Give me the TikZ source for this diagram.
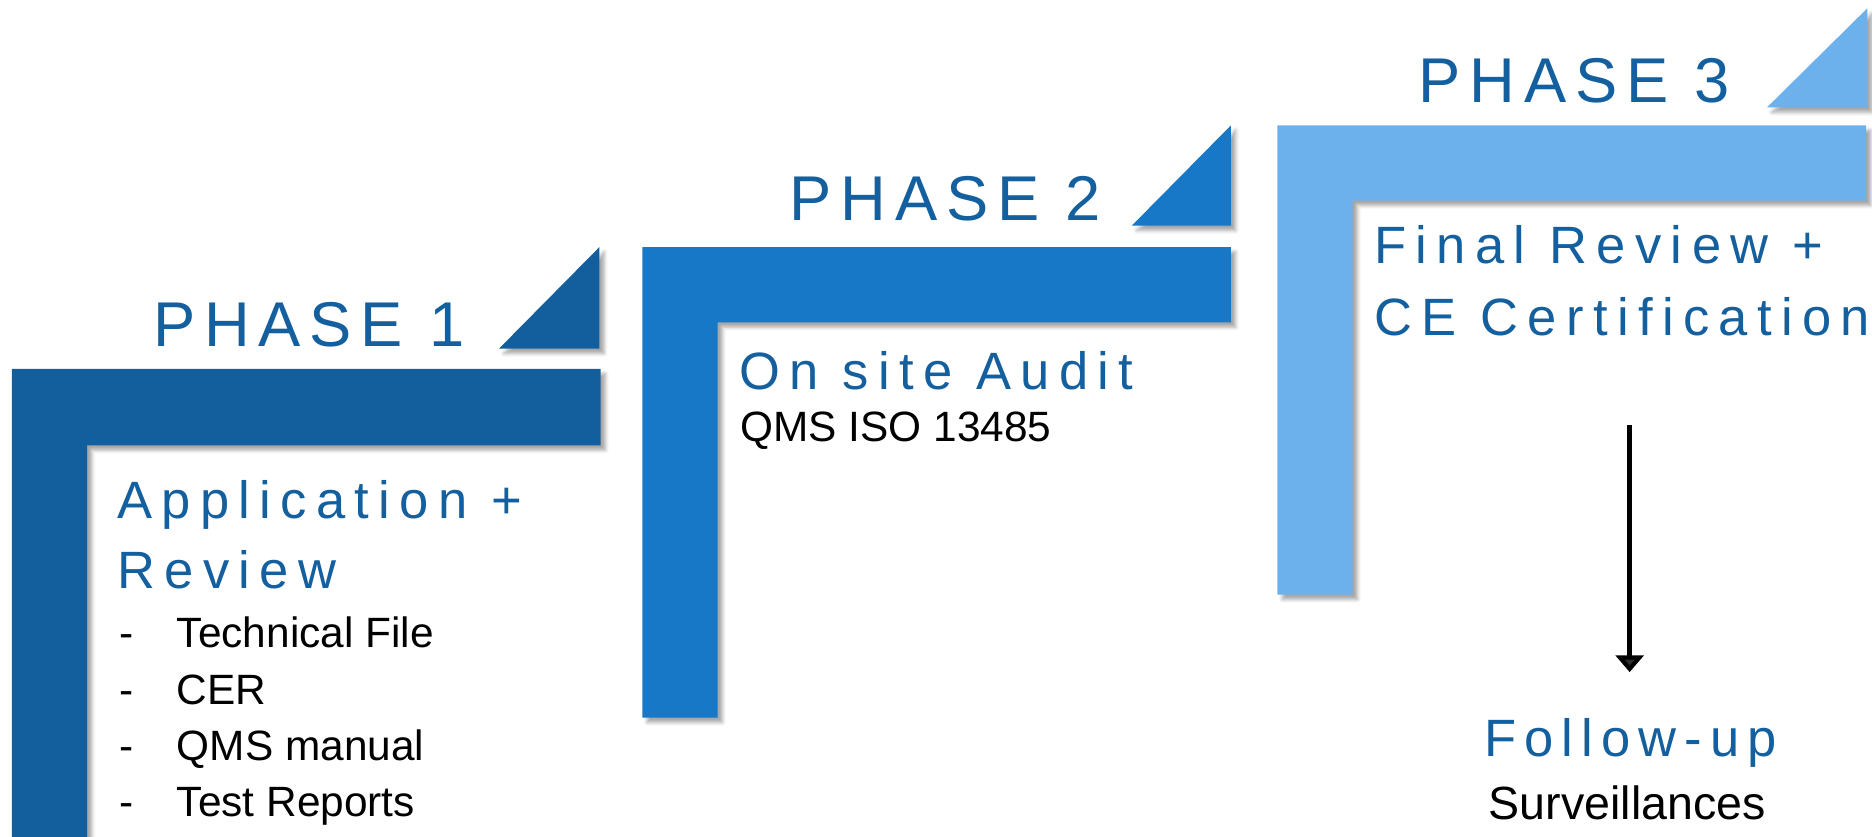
\documentclass[tikz,border=0pt]{standalone}
\usepackage{fontspec}
\setmainfont{Liberation Sans}
\newfontfamily\titlefont[LetterSpace=14]{Liberation Sans}
\newfontfamily\subfont[LetterSpace=17.8]{Liberation Sans}
\newfontfamily\fufont[LetterSpace=15.5]{Liberation Sans}
\usetikzlibrary{shadows.blur,arrows.meta}
\definecolor{pone}{HTML}{135F9E}
\definecolor{ptwo}{HTML}{1878C8}
\definecolor{pthree}{HTML}{6DB1EC}
\definecolor{tblue}{HTML}{14609F}
\tikzset{
  shd/.style={blur shadow={shadow xshift=4pt,shadow yshift=-4pt,shadow blur radius=3pt,shadow opacity=35}},
  ttl/.style={anchor=base west,inner sep=0pt,text=tblue,font=\titlefont\fontsize{53}{60}\selectfont},
  sub/.style={anchor=base west,inner sep=0pt,text=tblue,font=\subfont\fontsize{44}{50}\selectfont},
  blk/.style={anchor=base west,inner sep=0pt,text=black,font=\fontsize{35.5}{40}\selectfont},
  arr/.style={line width=3.8pt,-{Triangle[width=23pt,length=14pt]}}
}
\begin{document}
\begin{tikzpicture}[x=1pt,y=-1pt]
\useasboundingbox (0,0) rectangle (1568,701);
% Phase 1
\fill[pone,shd] (10,309) -- (503,309) -- (503,373) -- (73,373) -- (73,720) -- (10,720) -- cycle;
\fill[pone,shd] (418,292) -- (502,207) -- (502,292) -- cycle;
% Phase 2
\fill[ptwo,shd] (538,207) -- (1031,207) -- (1031,270) -- (601,270) -- (601,601) -- (538,601) -- cycle;
\fill[ptwo,shd] (948,189) -- (1031,105) -- (1031,189) -- cycle;
% Phase 3
\fill[pthree,shd] (1070,105) -- (1563,105) -- (1563,168) -- (1133,168) -- (1133,498) -- (1070,498) -- cycle;
\fill[pthree,shd] (1480,90) -- (1564,7) -- (1564,90) -- cycle;
% titles
\node[ttl] (t1) at (128,290) {PHASE 1};
\node[ttl] (t2) at (661,185) {PHASE 2};
\node[ttl] (t3) at (1188,86) {PHASE 3};
% phase 1 texts
\node[sub] (s1a) at (98,434) {Application +};
\node[sub] (s1b) at (98,493) {Review};
\node[blk] (d1) at (100,542) {-};
\node[blk] (i1) at (148,542) {Technical File};
\node[blk] (d2) at (100,590) {-};
\node[blk] (i2) at (148,590) {CER};
\node[blk] (d3) at (100,637) {-};
\node[blk] (i3) at (148,637) {QMS manual};
\node[blk] (d4) at (100,684) {-};
\node[blk] (i4) at (148,684) {Test Reports};
% phase 2 texts
\node[sub] (s2a) at (619,326) {On site Audit};
\node[blk] (s2b) at (620,370) {QMS ISO 13485};
% phase 3 texts
\node[sub] (s3a) at (1151,221) {Final Review +};
\node[sub] (s3b) at (1151,281) {CE Certification};
% follow-up
\coordinate (astart) at (1365,356);
\node[sub,anchor=base,font=\fufont\fontsize{44}{50}\selectfont] (fu) at (1366,634) {Follow-up};
\node[blk,anchor=base,font=\fontsize{39}{44}\selectfont] (sv) at (1363,686) {Surveillances};
\draw[arr] (astart) -- (1365,563);
\end{tikzpicture}
\end{document}
